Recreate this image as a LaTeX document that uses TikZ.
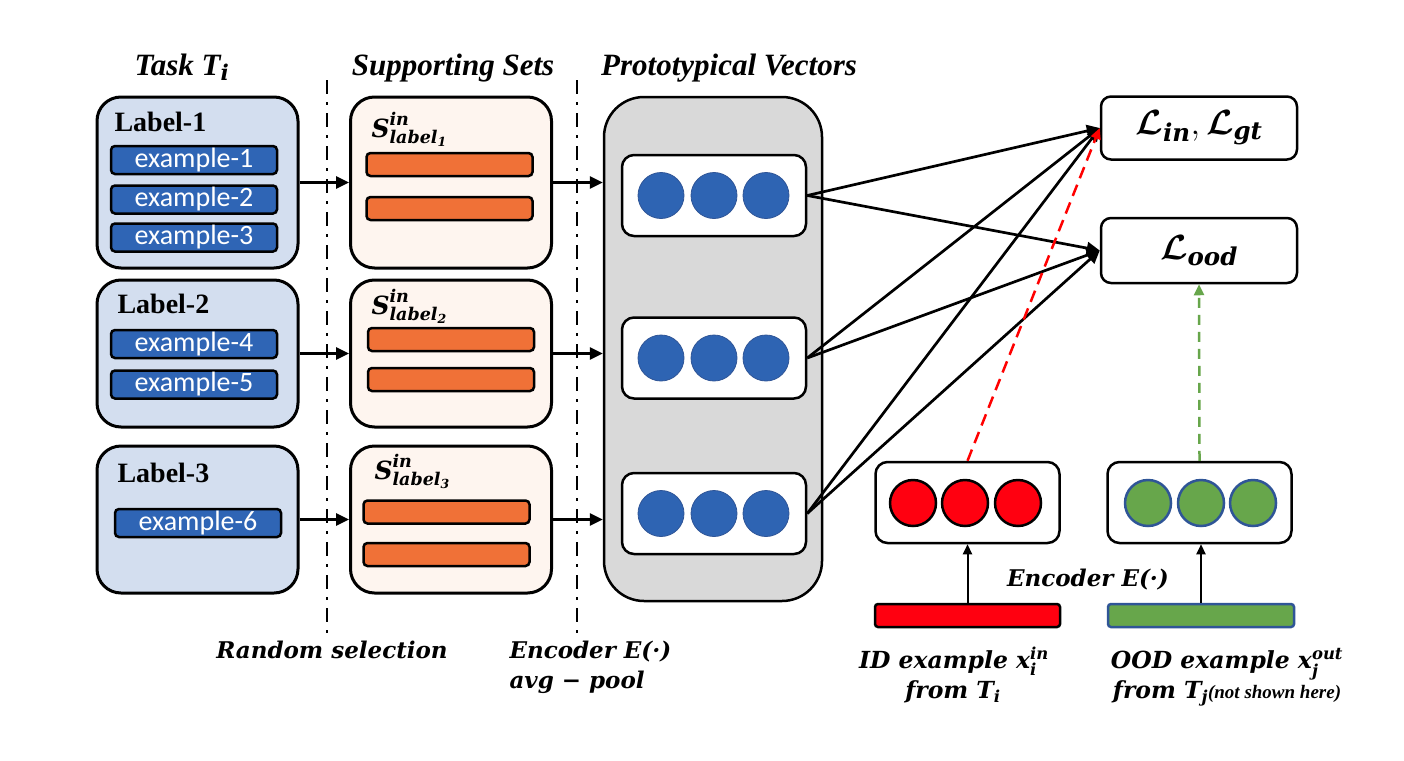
\RequirePackage{fix-cm}
\documentclass[tikz,border=0pt]{standalone}
\usepackage{amsmath,bm}
\usepackage{fontspec}
\setmainfont{Liberation Serif}
\newfontfamily\calib{Carlito}
\newfontfamily\dvs{DejaVu Serif}
\usetikzlibrary{arrows.meta}
\definecolor{lblue}{HTML}{D3DEEF}
\definecolor{peach}{HTML}{FEF5EF}
\definecolor{exblue}{HTML}{2F65B5}
\definecolor{orng}{HTML}{F07137}
\definecolor{gbox}{HTML}{D9D9D9}
\definecolor{cblue}{HTML}{2E64B3}
\definecolor{gfill}{HTML}{67A64B}
\definecolor{dkblue}{HTML}{2F5597}
\definecolor{rfill}{HTML}{FF0010}
\newcommand{\fsz}[1]{\fontsize{#1}{#1}\selectfont}
\newcommand{\tx}[1]{\text{#1}}
\tikzset{
  bigbox/.style={draw, line width=3pt, rounded corners=24pt, minimum width=201, minimum height=147},
  lbox/.style={bigbox, fill=lblue},
  sbox/.style={bigbox, fill=peach},
  exbar/.style={draw, line width=2.5pt, fill=exblue, rounded corners=4pt, minimum width=166, minimum height=28, inner sep=0pt, text=white, font=\calib\fsz{28}},
  obar/.style={draw, line width=2.5pt, fill=orng, rounded corners=4pt, minimum width=166, minimum height=23, inner sep=0pt},
  rowbox/.style={draw, fill=white, line width=2.5pt, rounded corners=12pt, minimum width=184, minimum height=81},
  lossbox/.style={draw, fill=white, line width=2.5pt, rounded corners=10pt, minimum width=196, minimum height=63, font=\dvs\bfseries\itshape\fsz{35}},
  pdot/.style={circle, minimum size=46, inner sep=0pt, fill=cblue, draw=dkblue, line width=0.8pt},
  rdot/.style={circle, minimum size=46, inner sep=0pt, fill=rfill, draw=black, line width=2.5pt},
  gdot/.style={circle, minimum size=46, inner sep=0pt, fill=gfill, draw=dkblue, line width=2.5pt},
  arr/.style={-{Triangle[length=13pt,width=12pt]}, line width=2.7pt},
  ddline/.style={line width=2.5pt, dash pattern=on 14pt off 8pt on 3pt off 8pt},
  ttl/.style={anchor=base, font=\bfseries\itshape\fsz{31}},
  lbl/.style={anchor=base west, font=\bfseries\fsz{28}},
  mth/.style={anchor=base, font=\dvs\bfseries\itshape\fsz{23}},
  mthb/.style={anchor=base, font=\dvs\bfseries\itshape\fsz{23.5}},
  stx/.style={anchor=base west, font=\dvs\bfseries\itshape\fsz{25}},
}
\begin{document}
\begin{tikzpicture}[x=1pt,y=-1pt]
\fill[white] (0,0) rectangle (1404,760);
\useasboundingbox (0,0) rectangle (1404,760);

% titles
\node[ttl] (tT) at (182,75) {Task T$_{\tx{\dvs i}}$};
\node[ttl] (tS) at (453,75) {Supporting Sets};
\node[ttl] (tP) at (729,75) {Prototypical Vectors};

% separators
\draw[ddline] (327,80) -- (327,633);
\draw[ddline] (577,80) -- (577,633);

% label boxes
\node[lbox, minimum height=171] (l1) at (197.5,182.5) {};
\node[lbox] (l2) at (197.5,353.5) {};
\node[lbox] (l3) at (197.5,519.5) {};
\node[lbl] (l1t) at (111,131) {Label-1};
\node[lbl] (l2t) at (114,313) {Label-2};
\node[lbl] (l3t) at (114,482) {Label-3};
\node[exbar] (e1) at (194,160) {example-1};
\node[exbar] (e2) at (194,199.5) {example-2};
\node[exbar] (e3) at (194,237.5) {example-3};
\node[exbar] (e4) at (194,344) {example-4};
\node[exbar] (e5) at (194,384.5) {example-5};
\node[exbar] (e6) at (198,523) {example-6};

% supporting sets
\node[sbox, minimum height=171] (s1) at (451,182.5) {};
\node[sbox] (s2) at (451,353.5) {};
\node[sbox] (s3) at (451,519.5) {};
\node[stx] (s1t) at (368,137) {$\tx{S}^{\tx{in}}_{\tx{label}_{\tx{1}}}$};
\node[stx] (s2t) at (368,314) {$\tx{S}^{\tx{in}}_{\tx{label}_{\tx{2}}}$};
\node[stx] (s3t) at (371,479) {$\tx{S}^{\tx{in}}_{\tx{label}_{\tx{3}}}$};
\node[obar] (o1a) at (449.5,164.5) {};
\node[obar] (o1b) at (449.5,208.5) {};
\node[obar] (o2a) at (451,339.5) {};
\node[obar] (o2b) at (451,379.5) {};
\node[obar] (o3a) at (446.5,512) {};
\node[obar] (o3b) at (446.5,554.5) {};

% prototypical vectors
\node[draw, fill=gbox, line width=2.5pt, rounded corners=40pt, minimum width=218, minimum height=504] (pv) at (713,349) {};
\node[rowbox] (r1) at (714,195.5) {};
\node[rowbox] (r2) at (714,358) {};
\node[rowbox] (r3) at (714,513.5) {};
\foreach \r/\y in {1/195.5, 2/358, 3/513.5}{
  \node[pdot] (p\r a) at (661,\y) {};
  \node[pdot] (p\r b) at (714,\y) {};
  \node[pdot] (p\r c) at (766,\y) {};
}

% arrows left part
\draw[arr] (l1.east) -- (s1.west);
\draw[arr] (l2.east) -- (s2.west);
\draw[arr] (l3.east) -- (s3.west);
\draw[arr] (s1.east) -- (s1.east -| pv.west);
\draw[arr] (s2.east) -- (s2.east -| pv.west);
\draw[arr] (s3.east) -- (s3.east -| pv.west);

% losses
\node[lossbox] (lin) at (1199,128) {$\boldsymbol{\mathcal{L}}_{\tx{in}},\boldsymbol{\mathcal{L}}_{\tx{gt}}$};
\node[lossbox, minimum height=65] (lood) at (1199,250.5) {$\boldsymbol{\mathcal{L}}_{\tx{ood}}$};

% ID / OOD vectors
\node[rowbox] (idb) at (967.5,502.5) {};
\node[rowbox] (oodb) at (1199.5,502.5) {};
\node[rdot] (ra) at (913,503) {};
\node[rdot] (rb) at (965,503) {};
\node[rdot] (rc) at (1018,503) {};
\node[gdot] (ga) at (1148,503) {};
\node[gdot] (gb) at (1201,503) {};
\node[gdot] (gc) at (1253,503) {};
\node[draw, line width=2.5pt, fill=rfill, rounded corners=3pt, minimum width=185, minimum height=23, inner sep=0pt] (rbar) at (967.5,615.5) {};
\node[draw=dkblue, line width=2.5pt, fill=gfill, rounded corners=3pt, minimum width=186, minimum height=23, inner sep=0pt] (gbar) at (1201,615.5) {};

% connectors to losses
\foreach \r in {r1,r2,r3}{
  \draw[arr] (\r.east) -- (lin.west);
  \draw[arr] (\r.east) -- (lood.west);
}
\draw[-{Triangle[length=11pt,width=10pt]}, red, line width=2.5pt, dash pattern=on 12pt off 7pt] (idb.north) -- (lin.west);
\draw[-{Triangle[length=11pt,width=10pt]}, gfill, line width=2.5pt, dash pattern=on 10pt off 7pt] (oodb.north) -- (lood.south);
\draw[-{Triangle[length=10pt,width=9pt]}, line width=2pt] (rbar.north) -- (rbar.north |- idb.south);
\draw[-{Triangle[length=10pt,width=9pt]}, line width=2pt] (gbar.north) -- (gbar.north |- oodb.south);

% bottom texts
\node[mth] (rs) at (332,658) {Random selection};
\node[mth, anchor=base west] (enc1) at (506,658) {Encoder E(·)};
\node[mth, anchor=base west] (avg) at (506,688) {avg − pool};
\node[mth] (enc2) at (1088,586) {Encoder E(·)};
\node[mthb] (idt) at (954,668) {ID example $\tx{x}_{\tx{i}}^{\tx{in}}$};
\node[mthb] (idf) at (953,698) {from $\tx{T}_{\tx{i}}$};
\node[mthb] (oodt) at (1227,668) {OOD example $\tx{x}_{\tx{j}}^{\tx{out}}$};
\node[mthb] (oodf) at (1227,698) {from $\tx{T}_{\tx{j}}${\rmfamily\bfseries\itshape\fsz{19}(not shown here)}};
\end{tikzpicture}
\end{document}
